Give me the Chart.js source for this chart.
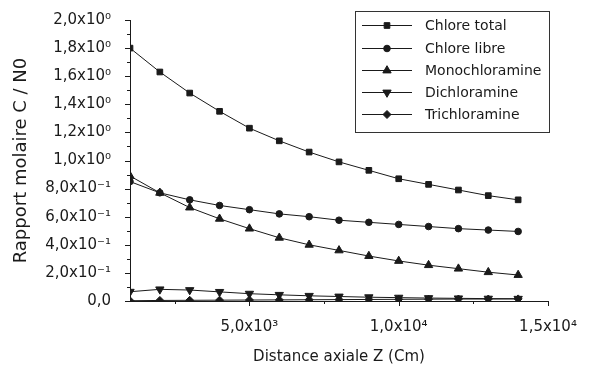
<!DOCTYPE html>
<html>
<head>
<meta charset="utf-8">
<script src="https://cdn.jsdelivr.net/npm/chart.js@4.4.1/dist/chart.umd.min.js"></script>
<style>
html,body{margin:0;padding:0;background:#fff;}
#wrap{width:599px;height:369px;}
</style>
</head>
<body>
<div id="wrap"><canvas id="c" width="599" height="369"></canvas></div>
<script>
// ---- data ----
const distance = [1000, 2000, 3000, 4000, 5000, 6000, 7000, 8000, 9000, 10000, 11000, 12000, 13000, 14000];
const chloreTotal = [1.80, 1.63, 1.48, 1.35, 1.23, 1.14, 1.06, 0.99, 0.93, 0.87, 0.83, 0.79, 0.75, 0.72];
const chloreLibre = [0.85, 0.77, 0.72, 0.68, 0.65, 0.62, 0.60, 0.575, 0.56, 0.545, 0.53, 0.515, 0.505, 0.495];
const monochloramine = [0.89, 0.77, 0.665, 0.585, 0.515, 0.45, 0.40, 0.36, 0.32, 0.285, 0.255, 0.23, 0.205, 0.185];
const dichloramine = [0.066, 0.083, 0.078, 0.065, 0.052, 0.044, 0.037, 0.032, 0.027, 0.024, 0.021, 0.019, 0.017, 0.016];
const trichloramine = [0.002, 0.004, 0.005, 0.006, 0.007, 0.008, 0.009, 0.010, 0.011, 0.012, 0.013, 0.014, 0.014, 0.015];
const seriesNames = ['Chlore total', 'Chlore libre', 'Monochloramine', 'Dichloramine', 'Trichloramine'];
const xMajorTicks = [5000, 10000, 15000];
const xMinorTicks = [2500, 7500, 12500];
const yMajorTicks = [0, 0.2, 0.4, 0.6, 0.8, 1.0, 1.2, 1.4, 1.6, 1.8, 2.0];
const xTitle = 'Distance axiale Z (Cm)';
const yTitle = 'Rapport molaire C / N0';

// ---- helpers ----
const SUP = {'0':'\u2070','1':'\u00B9','2':'\u00B2','3':'\u00B3','4':'\u2074','5':'\u2075','6':'\u2076','7':'\u2077','8':'\u2078','9':'\u2079','-':'\u207B'};
function sci(v){
  if (Math.abs(v) < 1e-9) return '0,0';
  const e = Math.floor(Math.log10(v) + 1e-9);
  const m = v / Math.pow(10, e);
  return m.toFixed(1).replace('.', ',') + 'x10' + String(e).split('').map(ch => SUP[ch]).join('');
}
const INK = '#1a1a1a';
const styles = [
  {pointStyle:'rect', radius:4, rotation:0},
  {pointStyle:'circle', radius:3.3, rotation:0},
  {pointStyle:'triangle', radius:4.8, rotation:0},
  {pointStyle:'triangle', radius:4.8, rotation:180},
  {pointStyle:'rectRot', radius:4, rotation:0}
];
const allSeries = [chloreTotal, chloreLibre, monochloramine, dichloramine, trichloramine];
const datasets = allSeries.map((arr, i) => ({
  label: seriesNames[i],
  data: arr.map((y, k) => ({x: distance[k], y: y})),
  borderColor: INK,
  backgroundColor: INK,
  borderWidth: 1,
  pointStyle: styles[i].pointStyle,
  pointRadius: styles[i].radius,
  pointRotation: styles[i].rotation,
  pointBackgroundColor: INK,
  pointBorderColor: INK,
  pointBorderWidth: 1,
  tension: 0
}));

const yTitleFont = {family: '"DejaVu Sans", sans-serif', size: 18};
const xTitleFont = {family: '"DejaVu Sans", sans-serif', size: 15};
const tickFont = {family: '"DejaVu Sans", sans-serif', size: 15};

const decor = {
  id: 'decor',
  afterDraw(chart){
    const ctx = chart.ctx;
    const xs = chart.scales.x, ys = chart.scales.y;
    const ca = chart.chartArea;
    ctx.save();
    ctx.strokeStyle = INK;
    ctx.lineWidth = 1;
    // y ticks (outward, left)
    for (let i = 0; i <= 20; i++){
      const v = i * 0.1;
      const py = Math.round(ys.getPixelForValue(v)) + 0.5;
      const len = (i % 2 === 0) ? 5 : 3;
      ctx.beginPath();
      ctx.moveTo(ca.left, py);
      ctx.lineTo(ca.left - len, py);
      ctx.stroke();
    }
    // x ticks (outward, down)
    const drawX = (v, len) => {
      const px = Math.round(xs.getPixelForValue(v)) + 0.5;
      ctx.beginPath();
      ctx.moveTo(px, ca.bottom);
      ctx.lineTo(px, ca.bottom + len);
      ctx.stroke();
    };
    xMajorTicks.forEach(v => drawX(v, 5));
    xMinorTicks.forEach(v => drawX(v, 3));
    // legend box
    const bx = 355.5, by = 11.5, bw = 194, bh = 121;
    ctx.strokeStyle = '#333';
    ctx.strokeRect(bx, by, bw, bh);
    ctx.font = '14px "DejaVu Sans", sans-serif';
    ctx.textBaseline = 'middle';
    ctx.fillStyle = INK;
    const rows = [25, 48, 70, 92, 114];
    chart.data.datasets.forEach((ds, i) => {
      const y = rows[i];
      ctx.strokeStyle = INK;
      ctx.beginPath();
      ctx.moveTo(362, y + 0.5);
      ctx.lineTo(412, y + 0.5);
      ctx.stroke();
      Chart.helpers.drawPoint(ctx, {
        pointStyle: ds.pointStyle, radius: ds.pointRadius, rotation: ds.pointRotation, borderWidth: 1
      }, 387, y + 0.5);
      ctx.fillText(ds.label, 425, y + 1);
    });
    ctx.restore();
  }
};

new Chart(document.getElementById('c'), {
  type: 'line',
  data: {datasets: datasets},
  plugins: [decor],
  options: {
    responsive: false,
    animation: false,
    layout: {padding: {left: 11, right: 51, top: 19, bottom: 3}},
    plugins: {legend: {display: false}, tooltip: {enabled: false}},
    scales: {
      x: {
        type: 'linear',
        min: 1000, max: 15000,
        afterBuildTicks(scale){ scale.ticks = xMajorTicks.map(v => ({value: v})); },
        afterFit(scale){ scale.height = 65; },
        grid: {display: false},
        border: {display: true, color: INK, width: 1},
        ticks: {color: INK, font: tickFont, padding: 9, maxRotation: 0, autoSkip: false, callback: v => sci(v)},
        title: {display: true, text: xTitle, color: INK, font: xTitleFont, padding: {top: 4, bottom: 0}}
      },
      y: {
        min: 0, max: 2,
        afterBuildTicks(scale){ scale.ticks = yMajorTicks.map(v => ({value: v})); },
        afterFit(scale){ scale.width = 119; },
        grid: {display: false},
        border: {display: true, color: INK, width: 1},
        ticks: {color: INK, font: tickFont, padding: 11, autoSkip: false, callback: v => sci(v)},
        title: {display: true, text: yTitle, color: INK, font: yTitleFont, padding: {top: 0, bottom: 0}}
      }
    }
  }
});
</script>
</body>
</html>
